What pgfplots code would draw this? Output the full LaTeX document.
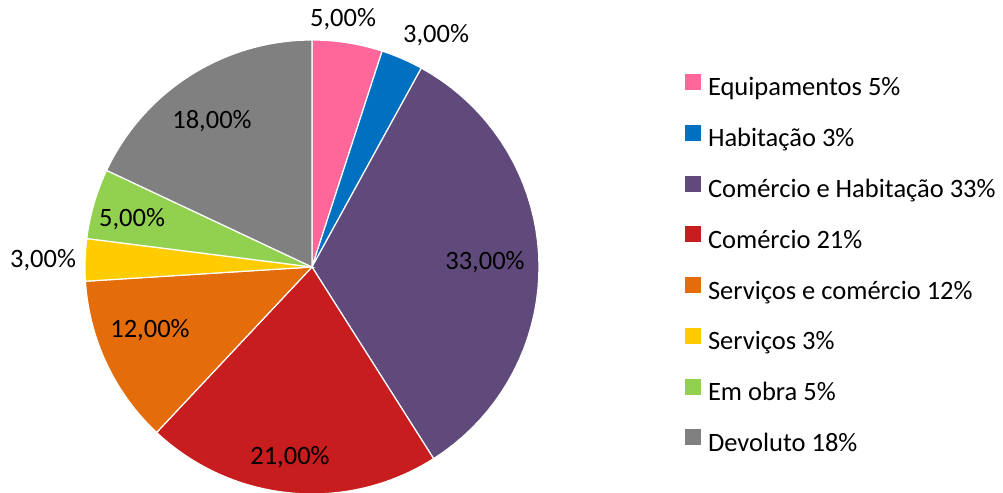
\documentclass[border=0pt]{standalone}
\usepackage{pgfplots}
\pgfplotsset{compat=1.18}
\usepackage{fontspec}
\setmainfont{Carlito}
\definecolor{cPink}{HTML}{FF6699}
\definecolor{cBlue}{HTML}{0070C0}
\definecolor{cPurple}{HTML}{604A7B}
\definecolor{cRed}{HTML}{C81D1F}
\definecolor{cOrange}{HTML}{E46C0A}
\definecolor{cYellow}{HTML}{FFCC00}
\definecolor{cGreen}{HTML}{92D050}
\definecolor{cGray}{HTML}{808080}
\newcommand{\pcx}{312}
\newcommand{\pcy}{226}
\newcommand{\pr}{227}
\begin{document}
\fontsize{13.25}{15.9}\selectfont
\begin{tikzpicture}
\begin{axis}[
  scale only axis, width=501.5pt, height=246.5pt,
  xmin=0, xmax=1003, ymin=0, ymax=493,
  hide axis, clip=false,
  legend cell align=left,
  legend image code/.code={\fill[#1,draw=none] (0pt,-0.5pt) rectangle (8pt,7.5pt); \path (11pt,0pt);},
  legend style={at={(axis cs:679,423.5)}, anchor=north west, draw=none, fill=none,
    font=\fontsize{13.25}{15.9}\selectfont, row sep=11.4pt,
    nodes={inner sep=0pt, text height=10pt, text depth=3pt}},
  every axis plot/.append style={draw=white, line width=0.6pt, samples=40, variable=\t},
]
% slices: percentages 5, 3, 33, 21, 12, 3, 5, 18 (clockwise from top)
\addplot[fill=cPink, domain={90}:{90-3.6*5}] ({\pcx+\pr*cos(\t)},{\pcy+\pr*sin(\t)}) -- (axis cs:\pcx,\pcy) -- cycle;
\addlegendentry{Equipamentos 5\%}
\addplot[fill=cBlue, domain={90-3.6*5}:{90-3.6*8}] ({\pcx+\pr*cos(\t)},{\pcy+\pr*sin(\t)}) -- (axis cs:\pcx,\pcy) -- cycle;
\addlegendentry{Habitação 3\%}
\addplot[fill=cPurple, domain={90-3.6*8}:{90-3.6*41}] ({\pcx+\pr*cos(\t)},{\pcy+\pr*sin(\t)}) -- (axis cs:\pcx,\pcy) -- cycle;
\addlegendentry{Comércio e Habitação 33\%}
\addplot[fill=cRed, domain={90-3.6*41}:{90-3.6*62}] ({\pcx+\pr*cos(\t)},{\pcy+\pr*sin(\t)}) -- (axis cs:\pcx,\pcy) -- cycle;
\addlegendentry{Comércio 21\%}
\addplot[fill=cOrange, domain={90-3.6*62}:{90-3.6*74}] ({\pcx+\pr*cos(\t)},{\pcy+\pr*sin(\t)}) -- (axis cs:\pcx,\pcy) -- cycle;
\addlegendentry{Serviços e comércio 12\%}
\addplot[fill=cYellow, domain={90-3.6*74}:{90-3.6*77}] ({\pcx+\pr*cos(\t)},{\pcy+\pr*sin(\t)}) -- (axis cs:\pcx,\pcy) -- cycle;
\addlegendentry{Serviços 3\%}
\addplot[fill=cGreen, domain={90-3.6*77}:{90-3.6*82}] ({\pcx+\pr*cos(\t)},{\pcy+\pr*sin(\t)}) -- (axis cs:\pcx,\pcy) -- cycle;
\addlegendentry{Em obra 5\%}
\addplot[fill=cGray, domain={90-3.6*82}:{90-3.6*100}] ({\pcx+\pr*cos(\t)},{\pcy+\pr*sin(\t)}) -- (axis cs:\pcx,\pcy) -- cycle;
\addlegendentry{Devoluto 18\%}
% value labels
\node at (axis cs:343,474) {5,00\%};
\node at (axis cs:436,458) {3,00\%};
\node at (axis cs:485,231) {33,00\%};
\node at (axis cs:290,36) {21,00\%};
\node at (axis cs:150,163) {12,00\%};
\node at (axis cs:43,233) {3,00\%};
\node at (axis cs:132,274) {5,00\%};
\node at (axis cs:212,372) {18,00\%};
\end{axis}
\pgfresetboundingbox
\useasboundingbox (current axis.south west) rectangle (current axis.north east);
\end{tikzpicture}
\end{document}
